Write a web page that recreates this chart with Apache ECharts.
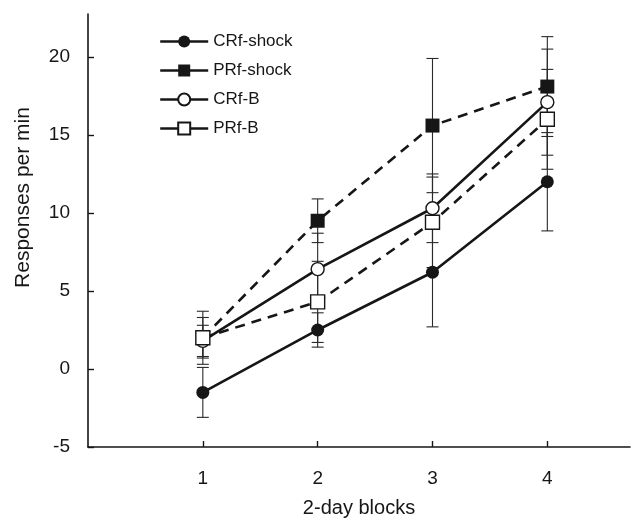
<!DOCTYPE html>
<html>
<head>
<meta charset="utf-8">
<script src="https://cdn.jsdelivr.net/npm/echarts@6/dist/echarts.min.js"></script>
<style>
  html, body { margin: 0; padding: 0; background: #fff; }
  #chart { width: 633px; height: 523px; }
</style>
</head>
<body>
<div id="chart"></div>
<script>
// Mean responses per minute across four 2-day blocks, with error bars
const blocks = [1, 2, 3, 4];
const yTicks = [-5, 0, 5, 10, 15, 20];

const crfShock    = [-1.5, 2.5, 6.2, 12.0];
const crfShockErr = [1.6, 1.1, 3.5, 3.15];
const prfShock    = [2.0, 9.5, 15.6, 18.1];
const prfShockErr = [1.7, 1.4, 4.3, 3.2];
const crfB        = [1.8, 6.4, 10.3, 17.1];
const crfBErr     = [1.0, 2.3, 2.2, 3.4];
const prfB        = [2.0, 4.3, 9.4, 16.0];
const prfBErr     = [1.3, 2.6, 2.9, 3.2];

const INK = '#161616';
const FONT = '"Liberation Sans", Arial, sans-serif';

function points(vals) {
  return blocks.map((b, i) => [b, vals[i]]);
}
function errRows(vals, errs) {
  return blocks.map((b, i) => [b, vals[i] - errs[i], vals[i] + errs[i]]);
}

function renderErr(params, api) {
  const x = api.value(0);
  const top = api.coord([x, api.value(2)]);
  const bot = api.coord([x, api.value(1)]);
  const w = 6;
  const st = { stroke: '#2a2a2a', lineWidth: 1.1 };
  return {
    type: 'group',
    children: [
      { type: 'line', shape: { x1: top[0], y1: top[1], x2: bot[0], y2: bot[1] }, style: st },
      { type: 'line', shape: { x1: top[0] - w, y1: top[1], x2: top[0] + w, y2: top[1] }, style: st },
      { type: 'line', shape: { x1: bot[0] - w, y1: bot[1], x2: bot[0] + w, y2: bot[1] }, style: st }
    ]
  };
}

function errSeries(vals, errs) {
  return {
    type: 'custom',
    renderItem: renderErr,
    data: errRows(vals, errs),
    encode: { x: 0, y: [1, 2] },
    z: 1,
    silent: true
  };
}

function lineSeries(name, vals, symbol, size, filled, dashed) {
  return {
    name: name,
    type: 'line',
    data: points(vals),
    symbol: symbol,
    symbolSize: size,
    showAllSymbol: true,
    z: 3,
    lineStyle: { color: INK, width: 2.6, type: dashed ? [10, 7] : 'solid' },
    itemStyle: filled
      ? { color: INK, borderColor: INK, borderWidth: 0 }
      : { color: '#fff', borderColor: INK, borderWidth: 1.4 },
    emphasis: { disabled: true },
    animation: false
  };
}

const chart = echarts.init(document.getElementById('chart'), null, { renderer: 'canvas' });
chart.setOption({
  animation: false,
  backgroundColor: '#fff',
  grid: { left: 88, right: 3, top: 14, bottom: 71, containLabel: false },
  legend: {
    orient: 'vertical',
    left: 154,
    top: 28,
    itemWidth: 48,
    itemHeight: 15,
    itemGap: 12,
    textStyle: { fontFamily: FONT, fontSize: 17, color: INK },
    lineStyle: { type: 'solid', width: 2.4 },
    data: ['CRf-shock', 'PRf-shock', 'CRf-B', 'PRf-B']
  },
  xAxis: {
    type: 'value',
    min: 0,
    max: 4.72,
    interval: 1,
    name: '2-day blocks',
    nameLocation: 'middle',
    nameGap: 51,
    nameTextStyle: { fontFamily: FONT, fontSize: 20, color: INK },
    axisLine: { onZero: false, lineStyle: { color: INK, width: 1.6 } },
    axisTick: { inside: true, length: 6, customValues: blocks, lineStyle: { color: INK, width: 1.4 } },
    axisLabel: { customValues: blocks, margin: 22, fontFamily: FONT, fontSize: 19, color: INK },
    splitLine: { show: false }
  },
  yAxis: {
    type: 'value',
    min: -5,
    max: 22.75,
    interval: 5,
    name: 'Responses per min',
    nameLocation: 'middle',
    nameGap: 54,
    nameTextStyle: { fontFamily: FONT, fontSize: 21, color: INK, padding: [0, 0, 0, 66] },
    axisLine: { show: true, onZero: false, lineStyle: { color: INK, width: 1.6 } },
    axisTick: { inside: true, length: 6, customValues: yTicks, lineStyle: { color: INK, width: 1.4 } },
    axisLabel: { customValues: yTicks, margin: 18, fontFamily: FONT, fontSize: 19, color: INK },
    splitLine: { show: false }
  },
  series: [
    errSeries(crfShock, crfShockErr),
    errSeries(prfShock, prfShockErr),
    errSeries(crfB, crfBErr),
    errSeries(prfB, prfBErr),
    lineSeries('CRf-shock', crfShock, 'circle', 13, true, false),
    lineSeries('PRf-shock', prfShock, 'rect', 14, true, true),
    lineSeries('CRf-B', crfB, 'circle', 13, false, false),
    lineSeries('PRf-B', prfB, 'rect', 14, false, true)
  ]
});
</script>
</body>
</html>
